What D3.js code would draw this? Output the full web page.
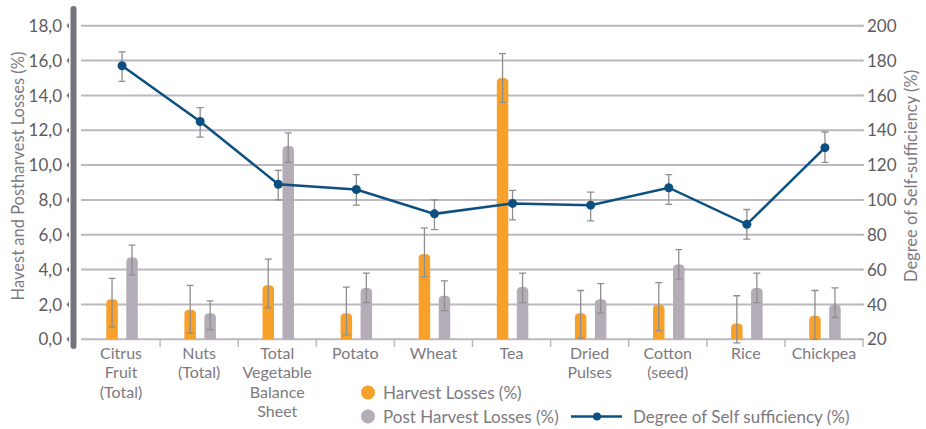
<!DOCTYPE html>
<html>
<head>
<meta charset="utf-8">
<script src="https://cdn.jsdelivr.net/npm/d3@7"></script>
<title>Harvest losses and self sufficiency</title>
<style>
  body { margin: 0; background: #fff; }
  text { font-family: Lato, "Open Sans", sans-serif; }
</style>
</head>
<body>
<div id="chart"></div>
<script>
// categories (label lines)
var categories = [
  ["Citrus", "Fruit", "(Total)"],
  ["Nuts", "(Total)"],
  ["Total", "Vegetable", "Balance", "Sheet"],
  ["Potato"],
  ["Wheat"],
  ["Tea"],
  ["Dried", "Pulses"],
  ["Cotton", "(seed)"],
  ["Rice"],
  ["Chickpea"]
];

// harvest losses (%) with error range
var harvest     = [2.3, 1.7, 3.1, 1.5, 4.9, 15.0, 1.5, 2.0, 0.9, 1.35];
var harvestLo   = [0.7, 0.35, 1.8, 0.25, 3.6, 13.6, 0.05, 0.5, -0.2, 0.0];
var harvestHi   = [3.5, 3.1, 4.6, 3.0, 6.4, 16.4, 2.8, 3.25, 2.5, 2.8];

// post harvest losses (%) with error range
var post        = [4.7, 1.5, 11.1, 2.95, 2.5, 3.0, 2.3, 4.3, 2.95, 2.0];
var postLo      = [3.7, 0.55, 10.15, 2.1, 1.65, 2.1, 1.5, 3.45, 2.1, 1.25];
var postHi      = [5.4, 2.2, 11.85, 3.8, 3.35, 3.8, 3.2, 5.15, 3.8, 2.95];

// degree of self sufficiency (%) with error range
var selfSuff    = [177, 145, 109, 106, 92, 98, 97, 107, 86, 130];
var selfLo      = [168, 136, 100, 97, 83, 88.5, 88, 97.5, 77.5, 121.5];
var selfHi      = [185, 153, 117, 114.5, 100, 105.5, 104.5, 114.5, 94.5, 139];

var leftTicks  = [0, 2, 4, 6, 8, 10, 12, 14, 16, 18];
var rightTicks = [20, 40, 60, 80, 100, 120, 140, 160, 180, 200];

var width = 926, height = 429;
var orange = "#f7a12b", greyBar = "#b4acb6", blue = "#0c5081",
    gridCol = "#bdb8bf", errCol = "#8e8e8e", textCol = "#7d797f", tickCol = "#5e5c60";

var svg = d3.select("#chart").append("svg")
  .attr("width", width).attr("height", height);

var x = d3.scaleBand().domain(d3.range(categories.length)).range([82, 863]);
var yL = d3.scaleLinear().domain([0, 18]).range([339.3, 25.7]);
var yR = d3.scaleLinear().domain([20, 200]).range([339.3, 25.7]);

// gridlines
svg.append("g").selectAll("line").data(leftTicks).enter().append("line")
  .attr("x1", 81).attr("x2", 862)
  .attr("y1", function(d) { return yL(d); }).attr("y2", function(d) { return yL(d); })
  .attr("stroke", gridCol).attr("stroke-width", 2);

// left axis bar
svg.append("line").attr("x1", 73.5).attr("x2", 73.5).attr("y1", 9).attr("y2", 346)
  .attr("stroke", "#77727b").attr("stroke-width", 6).attr("stroke-linecap", "round");

// left ticks and labels
var lt = svg.append("g").selectAll("g").data(leftTicks).enter().append("g")
  .attr("transform", function(d) { return "translate(0," + yL(d) + ")"; });
lt.append("path").attr("d", "M69,-3 L66.5,0 L69,3 Z").attr("fill", "#77727b");
lt.append("text").attr("x", 62).attr("dy", "0.36em").attr("text-anchor", "end")
  .attr("fill", tickCol).style("font-size", "17px")
  .text(function(d) { return d.toFixed(1).replace(".", ","); });

// right ticks and labels
var rt = svg.append("g").selectAll("g").data(rightTicks).enter().append("g")
  .attr("transform", function(d) { return "translate(0," + yR(d) + ")"; });
rt.append("line").attr("x1", 860).attr("x2", 864).attr("stroke", gridCol).attr("stroke-width", 2);
rt.append("text").attr("x", 867).attr("dy", "0.36em")
  .attr("fill", tickCol).style("font-size", "17px")
  .text(function(d) { return d; });

// bottom tick marks at band edges
svg.append("g").selectAll("line").data(d3.range(1, categories.length + 1)).enter().append("line")
  .attr("x1", function(d) { return 82 + d * x.bandwidth(); })
  .attr("x2", function(d) { return 82 + d * x.bandwidth(); })
  .attr("y1", 340).attr("y2", 347)
  .attr("stroke", gridCol).attr("stroke-width", 1.5);

// category labels
var cl = svg.append("g").selectAll("text").data(categories).enter().append("text")
  .attr("text-anchor", "middle").attr("fill", textCol).style("font-size", "16px")
  .attr("transform", function(d, i) { return "translate(" + (x(i) + x.bandwidth() / 2) + ",359)"; });
cl.selectAll("tspan").data(function(d) { return d; }).enter().append("tspan")
  .attr("x", 0).attr("y", function(d, j) { return j * 19.3; })
  .text(function(d) { return d; });

// bars with rounded tops
var bw = 11.5, r = 4.5;
function barPath(cx, v) {
  var x0 = cx - bw / 2, x1 = cx + bw / 2, yt = yL(v), yb = yL(0);
  return "M" + x0 + "," + yb + "L" + x0 + "," + (yt + r) +
    "Q" + x0 + "," + yt + " " + (x0 + r) + "," + yt +
    "L" + (x1 - r) + "," + yt + "Q" + x1 + "," + yt + " " + x1 + "," + (yt + r) +
    "L" + x1 + "," + yb + "Z";
}
function cx(i, off) { return x(i) + x.bandwidth() / 2 + off; }

svg.append("g").selectAll("path").data(harvest).enter().append("path")
  .attr("d", function(d, i) { return barPath(cx(i, -9), d); }).attr("fill", orange);
svg.append("g").selectAll("path").data(post).enter().append("path")
  .attr("d", function(d, i) { return barPath(cx(i, 11), d); }).attr("fill", greyBar);

// error bars
function errBars(lo, hi, scale, off) {
  var g = svg.append("g").attr("stroke", errCol).attr("stroke-width", 1.3).attr("fill", "none");
  lo.forEach(function(l, i) {
    var c = cx(i, off), y0 = scale(l), y1 = scale(hi[i]);
    g.append("path").attr("d",
      "M" + c + "," + y0 + "L" + c + "," + y1 +
      "M" + (c - 3.5) + "," + y0 + "L" + (c + 3.5) + "," + y0 +
      "M" + (c - 3.5) + "," + y1 + "L" + (c + 3.5) + "," + y1);
  });
}
errBars(harvestLo, harvestHi, yL, -9);
errBars(postLo, postHi, yL, 11);

// self sufficiency line
var line = d3.line()
  .x(function(d, i) { return cx(i, 1); })
  .y(function(d) { return yR(d); });
errBars(selfLo, selfHi, yR, 1);
svg.append("path").datum(selfSuff).attr("d", line)
  .attr("fill", "none").attr("stroke", blue).attr("stroke-width", 2.5);
svg.append("g").selectAll("circle").data(selfSuff).enter().append("circle")
  .attr("cx", function(d, i) { return cx(i, 1); })
  .attr("cy", function(d) { return yR(d); })
  .attr("r", 4.5).attr("fill", blue);

// axis titles
svg.append("text").attr("transform", "translate(24,176) rotate(-90)")
  .attr("text-anchor", "middle").attr("fill", textCol).style("font-size", "16.5px")
  .text("Havest and Postharvest Losses (%)");
svg.append("text").attr("transform", "translate(917,176) rotate(-90)")
  .attr("text-anchor", "middle").attr("fill", textCol).style("font-size", "16.5px")
  .text("Degree of Self-sufficiency (%)");

// legend
var lg = svg.append("g");
lg.append("circle").attr("cx", 368).attr("cy", 392.5).attr("r", 7).attr("fill", orange);
lg.append("text").attr("x", 383).attr("y", 392.5).attr("dy", "0.36em")
  .attr("fill", textCol).style("font-size", "17px").text("Harvest Losses (%)");
lg.append("circle").attr("cx", 368).attr("cy", 416.5).attr("r", 7).attr("fill", greyBar);
lg.append("text").attr("x", 383).attr("y", 416.5).attr("dy", "0.36em")
  .attr("fill", textCol).style("font-size", "17px").text("Post Harvest Losses (%)");
lg.append("line").attr("x1", 571).attr("x2", 622).attr("y1", 416.5).attr("y2", 416.5)
  .attr("stroke", blue).attr("stroke-width", 2.5);
lg.append("circle").attr("cx", 597).attr("cy", 416.5).attr("r", 4).attr("fill", blue);
lg.append("text").attr("x", 633).attr("y", 416.5).attr("dy", "0.36em")
  .attr("fill", textCol).style("font-size", "17px").text("Degree of Self sufficiency (%)");
</script>
</body>
</html>
